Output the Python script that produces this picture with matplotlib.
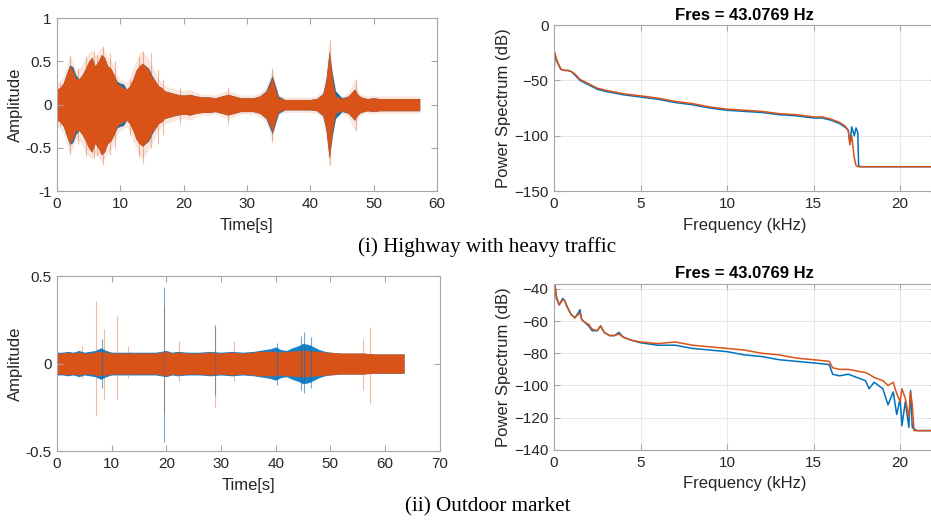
import numpy as np
import matplotlib
matplotlib.use("Agg")
import matplotlib.pyplot as plt

BLUE = "#0072BD"
ORANGE = "#D95319"

# ---------------- waveform (i): highway with heavy traffic ----------------
hw_t = [0, 0.5, 1, 1.5, 2, 2.5, 3, 3.5, 4, 4.5, 5, 5.5, 6, 6.5, 7, 7.5, 8, 8.5, 9,
        9.5, 10, 10.5, 11, 11.5, 12, 12.5, 13, 13.5, 14, 14.5, 15, 15.5, 16, 16.5,
        17, 18, 19, 20, 21, 22, 23, 24, 25, 26, 27, 28, 29, 30, 31, 32, 33, 33.5,
        34, 34.5, 35, 36, 37, 38, 39, 40, 41, 42, 42.5, 43, 43.5, 44, 45, 46, 47,
        47.5, 48, 49, 50, 51, 52, 53, 54, 55, 56, 57, 57.3]
hw_core = [0.18, 0.2, 0.25, 0.35, 0.45, 0.4, 0.3, 0.3, 0.35, 0.42, 0.5, 0.55, 0.45,
           0.5, 0.58, 0.55, 0.45, 0.42, 0.35, 0.25, 0.22, 0.2, 0.18, 0.22, 0.3, 0.4,
           0.45, 0.48, 0.45, 0.4, 0.32, 0.28, 0.22, 0.2, 0.16, 0.14, 0.12, 0.11, 0.12,
           0.1, 0.09, 0.09, 0.08, 0.1, 0.12, 0.1, 0.08, 0.08, 0.08, 0.1, 0.15, 0.22,
           0.32, 0.18, 0.08, 0.06, 0.06, 0.06, 0.06, 0.06, 0.07, 0.12, 0.28, 0.62,
           0.3, 0.1, 0.07, 0.1, 0.18, 0.12, 0.09, 0.07, 0.08, 0.07, 0.07, 0.07, 0.07,
           0.07, 0.07, 0.07, 0.07]
hw_outer = [0.25, 0.28, 0.33, 0.45, 0.56, 0.5, 0.4, 0.42, 0.47, 0.55, 0.6, 0.63,
            0.57, 0.6, 0.67, 0.63, 0.55, 0.52, 0.45, 0.35, 0.3, 0.28, 0.26, 0.32,
            0.42, 0.5, 0.6, 0.62, 0.58, 0.52, 0.45, 0.38, 0.3, 0.26, 0.22, 0.2, 0.17,
            0.16, 0.18, 0.14, 0.12, 0.12, 0.11, 0.14, 0.17, 0.14, 0.11, 0.11, 0.11,
            0.14, 0.2, 0.3, 0.42, 0.25, 0.12, 0.09, 0.09, 0.09, 0.09, 0.09, 0.1, 0.17,
            0.38, 0.75, 0.4, 0.15, 0.1, 0.14, 0.3, 0.17, 0.12, 0.1, 0.11, 0.1, 0.1,
            0.1, 0.1, 0.1, 0.1, 0.1, 0.1]
hw_blue = [0.18, 0.2, 0.25, 0.36, 0.46, 0.44, 0.34, 0.3, 0.35, 0.42, 0.5, 0.55,
           0.45, 0.5, 0.58, 0.55, 0.45, 0.42, 0.35, 0.27, 0.25, 0.24, 0.18, 0.22,
           0.3, 0.4, 0.45, 0.48, 0.45, 0.42, 0.34, 0.28, 0.22, 0.2, 0.16, 0.14, 0.12,
           0.11, 0.12, 0.1, 0.09, 0.09, 0.08, 0.1, 0.12, 0.1, 0.08, 0.08, 0.08, 0.1,
           0.16, 0.25, 0.34, 0.22, 0.1, 0.06, 0.06, 0.06, 0.06, 0.06, 0.07, 0.13,
           0.3, 0.62, 0.36, 0.16, 0.08, 0.1, 0.18, 0.12, 0.09, 0.07, 0.08, 0.07,
           0.07, 0.07, 0.07, 0.07, 0.07, 0.07, 0.07]
hw_spike_t = [0.4, 2.0, 3.3, 4.6, 5.8, 6.4, 7.2, 8.3, 9.1, 11.6, 12.9, 13.6, 14.8,
              16.0, 16.8, 19.5, 27.0, 34.0, 43.1, 47.3]
hw_spike_hi = [0.25, 0.57, 0.42, 0.55, 0.62, 0.58, 0.68, 0.6, 0.5, 0.3, 0.55, 0.62,
               0.6, 0.4, 0.3, 0.2, 0.2, 0.42, 0.75, 0.3]
hw_spike_lo = [-0.25, -0.57, -0.45, -0.6, -0.62, -0.6, -0.7, -0.58, -0.5, -0.35,
               -0.6, -0.68, -0.5, -0.45, -0.35, -0.22, -0.22, -0.43, -0.7, -0.3]

# ---------------- waveform (ii): outdoor market ----------------
om_t = [0, 1, 2, 3, 4, 5, 6, 7, 8, 9, 10, 12, 14, 16, 18, 19, 20, 21, 22, 24, 26, 28,
        30, 32, 34, 36, 37, 38, 39, 40, 41, 42, 43, 44, 45, 46, 47, 48, 49, 50, 52,
        54, 56, 58, 60, 62, 63.5]
om_core = [0.06, 0.06, 0.065, 0.06, 0.065, 0.06, 0.06, 0.065, 0.07, 0.065, 0.06,
           0.06, 0.06, 0.06, 0.06, 0.065, 0.07, 0.06, 0.065, 0.06, 0.06, 0.065, 0.06,
           0.065, 0.06, 0.065, 0.07, 0.07, 0.07, 0.07, 0.065, 0.07, 0.07, 0.075,
           0.075, 0.075, 0.07, 0.07, 0.065, 0.065, 0.06, 0.06, 0.06, 0.055, 0.055,
           0.055, 0.055]
om_blue = [0.065, 0.065, 0.07, 0.065, 0.075, 0.065, 0.07, 0.075, 0.09, 0.075, 0.065,
           0.065, 0.065, 0.065, 0.065, 0.07, 0.075, 0.065, 0.07, 0.065, 0.065, 0.07,
           0.065, 0.07, 0.065, 0.07, 0.075, 0.08, 0.085, 0.095, 0.08, 0.075, 0.09,
           0.1, 0.115, 0.11, 0.095, 0.08, 0.07, 0.065, 0.06, 0.06, 0.06, 0.055,
           0.055, 0.055, 0.055]
om_spike_t = [4.5, 7.2, 8.6, 11.0, 13.0, 19.6, 22.3, 29.0, 32.3, 56.0, 57.2]
om_spike_hi = [0.1, 0.36, 0.2, 0.27, 0.1, 0.33, 0.13, 0.21, 0.13, 0.14, 0.21]
om_spike_lo = [-0.08, -0.3, -0.2, -0.2, -0.08, -0.28, -0.1, -0.25, -0.1, -0.15, -0.23]
om_bspike_t = [8.3, 19.6, 29.0, 40.2, 44.6, 45.2, 46.4]
om_bspike_hi = [0.14, 0.44, 0.22, 0.12, 0.16, 0.18, 0.15]
om_bspike_lo = [-0.14, -0.45, -0.18, -0.12, -0.15, -0.17, -0.14]

# ---------------- power spectra ----------------
hw_f = [0, 0.05, 0.1, 0.2, 0.4, 0.6, 0.8, 1.0, 1.2, 1.5, 2.0, 2.5, 3, 4, 5, 6, 7, 8,
        9, 10, 11, 12, 13, 14, 15, 15.5, 16, 16.5, 16.8, 17.0, 17.1, 17.2, 17.35,
        17.45, 17.55, 17.6, 17.7, 19, 21, 22.05]
hw_p_blue = [-48, -26, -29, -34, -40, -41, -41, -42, -45, -50, -54, -58, -60, -63,
             -65, -67, -70, -72, -75, -77, -78, -79, -81, -82, -84, -84, -86, -89,
             -92, -95, -108, -92, -100, -93, -97, -127, -128, -128, -128, -128]
hw_p_orange = [-45, -25, -28, -33, -40, -41, -41, -42, -44, -49, -53, -57, -59, -62,
               -64, -66, -69, -71, -74, -76, -77, -78, -80, -81, -83, -83, -85, -88,
               -91, -95, -108, -100, -120, -127, -128, -128, -128, -128, -128, -128]

om_f = [0, 0.05, 0.15, 0.3, 0.5, 0.6, 0.8, 1.0, 1.2, 1.4, 1.5, 1.6, 1.8, 2.0, 2.2,
        2.5, 2.7, 2.9, 3.2, 3.5, 3.75, 4.0, 4.5, 5, 6, 7, 8, 9, 10, 11, 12, 13, 14,
        15, 15.9, 16.1, 16.5, 17, 17.5, 18, 18.2, 18.5, 19, 19.3, 19.6, 19.8, 20.0,
        20.1, 20.3, 20.5, 20.6, 20.7, 20.8, 21, 22.05]
om_p_orange = [-52, -37, -45, -50, -47, -47, -52, -56, -58, -56, -55, -59, -61, -62,
               -65, -66, -63, -67, -69, -69, -68, -70, -72, -73, -74, -73, -75, -76,
               -77, -78, -80, -81, -83, -84, -85, -89, -90, -90, -91, -92, -93, -95,
               -97, -100, -98, -105, -110, -102, -108, -120, -104, -112, -128, -128,
               -128]
om_p_blue = [-53, -37, -46, -50, -46, -47, -52, -56, -58, -55, -53, -59, -61, -63,
             -66, -66, -63, -67, -69, -69, -67, -70, -72, -73.5, -75, -75, -77, -78,
             -79, -81, -82, -84, -85, -86, -87, -93, -94, -93, -95, -97, -102, -98,
             -102, -112, -104, -118, -108, -125, -110, -126, -103, -126, -127, -128,
             -128]

plt.rcParams["font.family"] = ["Liberation Sans", "DejaVu Sans"]
TXT = "#262626"
SPINE = "#a6a6a6"

fig = plt.figure(figsize=(9.31, 5.22), dpi=100)


def style(ax, grid=False):
    for s in ax.spines.values():
        s.set_color(SPINE)
        s.set_linewidth(0.8)
    ax.tick_params(direction="in", length=4, width=0.8, color=SPINE,
                   labelcolor=TXT, labelsize=11, top=True, right=True, pad=4)
    if grid:
        ax.grid(True, color="#e8e8e8", linewidth=0.7)
        ax.set_axisbelow(True)


def waveform(ax, t, blue, core, outer, spikes, bspikes, blue_alpha=1.0):
    t = np.asarray(t)
    b = np.asarray(blue)
    c = np.asarray(core)
    ax.fill_between(t, -b, b, color=BLUE, lw=0, alpha=blue_alpha)
    if outer is not None:
        o = np.asarray(outer)
        ax.fill_between(t, -o, o, color=ORANGE, alpha=0.14, lw=0)
    if bspikes is not None:
        ax.vlines(bspikes[0], bspikes[2], bspikes[1], color=BLUE, lw=0.8, alpha=0.6)
    ax.vlines(spikes[0], spikes[2], spikes[1], color=ORANGE, lw=0.8, alpha=0.4)
    ax.fill_between(t, -c, c, color=ORANGE, lw=0)


def labels(ax, xl, yl):
    ax.set_xlabel(xl, fontsize=12, color=TXT, labelpad=5)
    ax.set_ylabel(yl, fontsize=12, color=TXT, labelpad=2)


# (i) waveform
ax1 = fig.add_axes([0.0612, 0.634, 0.408, 0.331])
waveform(ax1, hw_t, hw_blue, hw_core, hw_outer,
         (hw_spike_t, hw_spike_hi, hw_spike_lo), None)
ax1.set_xlim(0, 60)
ax1.set_ylim(-1, 1)
ax1.set_xticks(range(0, 61, 10))
ax1.set_yticks([-1, -0.5, 0, 0.5, 1])
ax1.set_yticklabels(["-1", "-0.5", "0", "0.5", "1"])
labels(ax1, "Time[s]", "Amplitude")
style(ax1)

# (i) spectrum
ax2 = fig.add_axes([0.595, 0.634, 0.410, 0.318])
ax2.plot(hw_f, hw_p_blue, color=BLUE, lw=1.1)
ax2.plot(hw_f, hw_p_orange, color=ORANGE, lw=1.1)
ax2.set_xlim(0, 22.05)
ax2.set_ylim(-150, 0)
ax2.set_xticks([0, 5, 10, 15, 20])
ax2.set_yticks([-150, -100, -50, 0])
labels(ax2, "Frequency (kHz)", "Power Spectrum (dB)")
ax2.set_title("Fres = 43.0769 Hz", fontsize=12, fontweight="bold", color="black", pad=4)
style(ax2, grid=True)

# (ii) waveform
ax3 = fig.add_axes([0.0612, 0.136, 0.411, 0.335])
waveform(ax3, om_t, om_blue, om_core, None,
         (om_spike_t, om_spike_hi, om_spike_lo),
         (om_bspike_t, om_bspike_hi, om_bspike_lo), blue_alpha=0.9)
ax3.set_xlim(0, 70)
ax3.set_ylim(-0.5, 0.5)
ax3.set_xticks(range(0, 71, 10))
ax3.set_yticks([-0.5, 0, 0.5])
ax3.set_yticklabels(["-0.5", "0", "0.5"])
labels(ax3, "Time[s]", "Amplitude")
style(ax3)

# (ii) spectrum
ax4 = fig.add_axes([0.595, 0.138, 0.410, 0.318])
ax4.plot(om_f, om_p_blue, color=BLUE, lw=1.1)
ax4.plot(om_f, om_p_orange, color=ORANGE, lw=1.1)
ax4.set_xlim(0, 22.05)
ax4.set_ylim(-140, -37)
ax4.set_xticks([0, 5, 10, 15, 20])
ax4.set_yticks([-140, -120, -100, -80, -60, -40])
labels(ax4, "Frequency (kHz)", "Power Spectrum (dB)")
ax4.set_title("Fres = 43.0769 Hz", fontsize=12, fontweight="bold", color="black", pad=4)
style(ax4, grid=True)

# panel captions
fig.text(487.5 / 931, 1 - 247 / 522, "(i) Highway with heavy traffic",
         family="Liberation Serif", fontsize=15.2, ha="center", va="center", color="black")
fig.text(487.5 / 931, 1 - 507 / 522, "(ii) Outdoor market",
         family="Liberation Serif", fontsize=15.2, ha="center", va="center", color="black")

fig.savefig("out.png", dpi=100)
